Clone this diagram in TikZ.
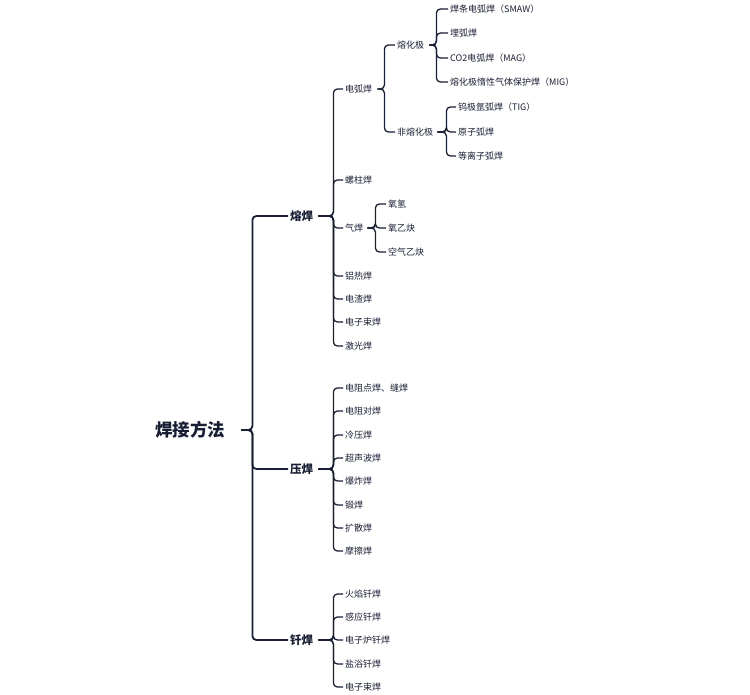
\documentclass[tikz,border=0pt]{standalone}
\usepackage{fontspec}
\newfontfamily\cjk{Noto Sans CJK SC}
\definecolor{inkblue}{RGB}{24,30,52}

\tikzset{
  leaf/.style={anchor=west, inner sep=2pt, text=inkblue, font=\cjk\fontsize{9}{10}\selectfont},
  mainleaf/.style={leaf, font=\cjk\bfseries\fontsize{11.5}{13}\selectfont},
  rootleaf/.style={leaf, font=\cjk\bfseries\fontsize{17.5}{20}\selectfont},
  link/.style={draw=inkblue, line width=1.3pt, rounded corners=4pt},
  mainlink/.style={link, line width=1.8pt},
}
% \branch[style]{parent}{start gap}{stub length}{children}
\newcommand{\branch}[5][link]{%
  \foreach \kid in {#5} \draw[#1] ([xshift=#3]#2.east) -- ++(#4,0) |- (\kid.west);}

\begin{document}
\begin{tikzpicture}[x=1pt, y=-1pt]
    \useasboundingbox (0,0) rectangle (750,695);

    \node[rootleaf] (root) at (153,430) {焊接方法};
    \node[mainleaf] (ronghan) at (288,216) {熔焊};
    \node[mainleaf] (yahan) at (288,469) {压焊};
    \node[mainleaf] (qianhan) at (288,640) {钎焊};

    % 熔焊
    \node[leaf] (dianhu) at (343,89) {电弧焊};
    \node[leaf] (luozhu) at (343,180) {螺柱焊};
    \node[leaf] (qihan) at (343,228) {气焊};
    \node[leaf] (lvre) at (343,276) {铝热焊};
    \node[leaf] (dianzha) at (343,299) {电渣焊};
    \node[leaf] (shuhan) at (343,322) {电子束焊};
    \node[leaf] (jiguang) at (343,346) {激光焊};

    \node[leaf] (rongji) at (395,45) {熔化极};
    \node[leaf] (feirong) at (395,132) {非熔化极};
    \node[leaf] (smaw) at (448,9) {焊条电弧焊（SMAW）};
    \node[leaf] (maihu) at (448,33) {埋弧焊};
    \node[leaf] (mag) at (448,58) {CO2电弧焊（MAG）};
    \node[leaf] (mig) at (448,82) {熔化极惰性气体保护焊（MIG）};
    \node[leaf] (tig) at (456,107) {钨极氩弧焊（TIG）};
    \node[leaf] (yuanzi) at (456,132) {原子弧焊};
    \node[leaf] (dengli) at (456,156) {等离子弧焊};

    \node[leaf] (yangqing) at (386,204) {氧氢};
    \node[leaf] (yangyi) at (386,228) {氧乙炔};
    \node[leaf] (kongqi) at (386,252) {空气乙炔};

    % 压焊
    \node[leaf] (dianzu) at (343,388) {电阻点焊、缝焊};
    \node[leaf] (duihan) at (343,411) {电阻对焊};
    \node[leaf] (lengya) at (343,435) {冷压焊};
    \node[leaf] (chaosheng) at (343,458) {超声波焊};
    \node[leaf] (baozha) at (343,481) {爆炸焊};
    \node[leaf] (duanhan) at (343,505) {锻焊};
    \node[leaf] (kuosan) at (343,528) {扩散焊};
    \node[leaf] (moca) at (343,551) {摩擦焊};

    % 钎焊
    \node[leaf] (huoyan) at (343,594) {火焰钎焊};
    \node[leaf] (ganying) at (343,617) {感应钎焊};
    \node[leaf] (dianlu) at (343,640) {电子炉钎焊};
    \node[leaf] (yanyu) at (343,664) {盐浴钎焊};
    \node[leaf] (shuqian) at (343,687) {电子束焊};

    \branch[mainlink]{root}{14}{11}{ronghan,yahan,qianhan}
    \branch{ronghan}{3}{15}{dianhu,luozhu,qihan,lvre,dianzha,shuhan,jiguang}
    \branch{yahan}{3}{15}{dianzu,duihan,lengya,chaosheng,baozha,duanhan,kuosan,moca}
    \branch{qianhan}{3}{15}{huoyan,ganying,dianlu,yanyu,shuqian}
    \branch{dianhu}{3}{7}{rongji,feirong}
    \branch{rongji}{3}{7}{smaw,maihu,mag,mig}
    \branch{feirong}{2}{9}{tig,yuanzi,dengli}
    \branch{qihan}{2}{8}{yangqing,yangyi,kongqi}
\end{tikzpicture}
\end{document}
